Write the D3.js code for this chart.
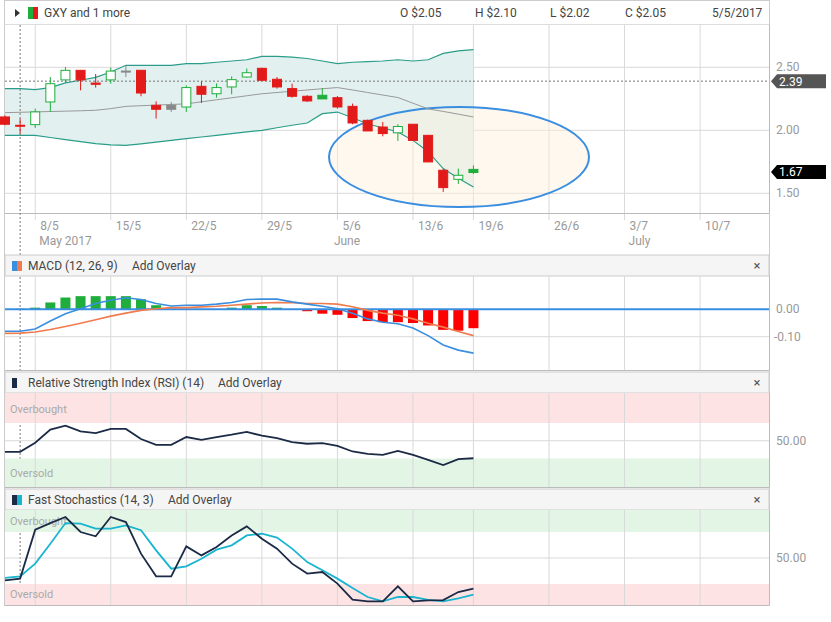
<!DOCTYPE html>
<html><head><meta charset="utf-8">
<script src="https://cdn.jsdelivr.net/npm/d3@7"></script>
<style>
body{margin:0;background:#fff;font-family:Roboto,"Open Sans",sans-serif;}
text{font-family:Roboto,sans-serif;}
</style></head>
<body><svg id="chart" width="831" height="622"></svg>
<script>
// candles, one per trading day (index 0 = 5/5/2017)
const opens  = [2.106,2.04,2.045,2.225,2.40,2.476,2.375,2.40,2.47,2.476,2.198,2.198,2.185,2.349,2.29,2.344,2.423,2.492,2.405,2.331,2.27,2.278,2.259,2.19,2.079,2.026,1.98,2.048,1.96,1.683,1.611,1.69];
const closes = [2.048,2.04,2.146,2.37,2.476,2.40,2.365,2.47,2.47,2.296,2.167,2.167,2.339,2.286,2.339,2.402,2.457,2.397,2.344,2.27,2.233,2.249,2.185,2.058,1.995,1.974,2.03,1.92,1.749,1.545,1.643,1.665];
const highs  = [2.119,2.093,2.172,2.423,2.503,2.476,2.447,2.497,2.516,2.476,2.230,2.225,2.357,2.389,2.372,2.428,2.490,2.497,2.423,2.370,2.278,2.336,2.272,2.212,2.085,2.066,2.048,2.048,1.963,1.693,1.696,1.722];
const lows   = [2.040,1.974,2.019,2.146,2.376,2.317,2.339,2.370,2.423,2.270,2.093,2.146,2.146,2.217,2.259,2.286,2.418,2.392,2.331,2.259,2.225,2.249,2.172,2.048,1.995,1.952,1.915,1.915,1.767,1.511,1.574,1.653];
const prevClose0 = 2.12;
const bbUpper = [2.331,2.331,2.323,2.339,2.376,2.397,2.42,2.463,2.516,2.516,2.516,2.516,2.529,2.529,2.54,2.55,2.56,2.587,2.587,2.58,2.57,2.55,2.529,2.54,2.545,2.55,2.56,2.55,2.56,2.61,2.63,2.64];
const bbMiddle = [2.14,2.143,2.146,2.149,2.152,2.155,2.159,2.172,2.19,2.195,2.2,2.205,2.21,2.226,2.242,2.258,2.274,2.29,2.3,2.31,2.32,2.33,2.339,2.32,2.3,2.28,2.26,2.215,2.17,2.15,2.128,2.106];
const bbLower = [1.96,1.96,1.96,1.943,1.926,1.91,1.895,1.885,1.88,1.893,1.906,1.92,1.934,1.947,1.96,1.973,1.987,2.0,2.02,2.04,2.058,2.132,2.145,2.1,2.05,2.02,1.987,1.92,1.83,1.696,1.62,1.55];
const macdHist = [0,0.002,0.006,0.025,0.043,0.048,0.048,0.048,0.048,0.037,0.015,0.002,0,0,0,0.006,0.015,0.012,0.006,0,-0.007,-0.016,-0.02,-0.032,-0.043,-0.047,-0.047,-0.05,-0.059,-0.075,-0.078,-0.069];
const macdLine = [-0.08,-0.08,-0.072,-0.043,-0.016,0.002,0.021,0.033,0.042,0.036,0.021,0.012,0.015,0.015,0.019,0.025,0.036,0.037,0.037,0.027,0.019,0.011,0.002,-0.014,-0.035,-0.047,-0.053,-0.068,-0.096,-0.13,-0.149,-0.16];
const macdSignal = [-0.088,-0.087,-0.083,-0.074,-0.063,-0.051,-0.038,-0.025,-0.014,-0.004,0.002,0.006,0.006,0.009,0.011,0.015,0.019,0.023,0.025,0.024,0.021,0.021,0.019,0.009,-0.004,-0.014,-0.022,-0.035,-0.051,-0.065,-0.081,-0.096];
const rsi = [37.5,37.5,47.7,62.5,67,60.6,58.7,63.3,63.3,51.9,45.4,45.4,54.2,51,54.2,56.8,59.9,55.7,53,48.5,46.6,47.3,44.3,37.9,35.2,34,38.6,34,28.4,22.7,29.2,30.3];
const stochK = [24.2,26.2,82.7,90.3,97.3,80,75,97.3,91.5,55,28.8,28.8,63.4,53,62.6,76,86.5,72.3,60.8,43.5,32,33.8,20.4,2,0,0,17.3,0,1,1.5,10.7,14.6];
const stochD = [27,28.8,43.5,66.5,90.3,89.6,83.8,83.8,87.7,82,58.8,37.7,40.4,49.2,59.6,64.6,76,78,73.5,60.8,45.3,35.8,26.2,15.3,5,0,5,5,1.7,0,3.5,7.7];
const tickIdx = [2,7,12,17,22,27,31,36,41,46];
const tickLabels = ["8/5","15/5","22/5","29/5","5/6","13/6","19/6","26/6","3/7","10/7"];
const monthIdx = [2,21.5,41];
const monthLabels = ["May 2017","June","July"];
const header = ["O $2.05","H $2.10","L $2.02","C $2.05","5/5/2017"];

const svg = d3.select("#chart");
const L = 5, R = 769;
const x = d3.scaleLinear().domain([0, 50.56]).range([L + 0, R]);
const xi = i => 5 + (x(i) - x(0));
const grid = "#d9d9d9", axisTxt = "#999";

// outer frame
svg.append("rect").attr("x",4.5).attr("y",0.5).attr("width",R-4).attr("height",605).attr("fill","none").attr("stroke","#ccc");

// top header
svg.append("path").attr("d","M15,9 L20,13 L15,17Z").attr("fill","#333");
svg.append("rect").attr("x",28).attr("y",7).attr("width",5).attr("height",12).attr("fill","#1fae3c");
svg.append("rect").attr("x",33).attr("y",7).attr("width",5).attr("height",12).attr("fill","#e21a1a");
svg.append("text").attr("x",44).attr("y",17).attr("font-size",12).attr("fill","#444").text("GXY and 1 more");
const hx = [400,475,550,625,712];
header.forEach((t,i)=>svg.append("text").attr("x",hx[i]).attr("y",17).attr("font-size",12).attr("fill","#444").text(t));
svg.append("line").attr("x1",4).attr("x2",R).attr("y1",24.5).attr("y2",24.5).attr("stroke","#ddd");

function vgrid(y0,y1){
  svg.append("g").selectAll("line").data(tickIdx).join("line")
    .attr("x1",d=>xi(d)).attr("x2",d=>xi(d)).attr("y1",y0).attr("y2",y1)
    .attr("stroke",grid);
}

// ---- price panel
const yP = d3.scaleLinear().domain([1.5,2.5]).range([193.3,67.3]);
const pTop = 25, pBot = 213;
vgrid(pTop,pBot+7);
svg.append("g").selectAll("line").data([1.5,2.0,2.5]).join("line")
  .attr("x1",L).attr("x2",R).attr("y1",d=>yP(d)).attr("y2",d=>yP(d)).attr("stroke",grid);
svg.append("g").selectAll("text").data([1.5,2.0,2.5]).join("text")
  .attr("x",776).attr("y",d=>yP(d)+4).attr("font-size",12).attr("fill",axisTxt).text(d=>d.toFixed(2));
svg.append("line").attr("x1",L).attr("x2",R).attr("y1",pBot+0.5).attr("y2",pBot+0.5).attr("stroke","#bbb");
svg.append("line").attr("x1",R+0.5).attr("x2",R+0.5).attr("y1",pTop).attr("y2",pBot).attr("stroke","#bbb");

const idx = d3.range(closes.length);
// bollinger band area
svg.append("path").datum(idx)
  .attr("d",d3.area().x(i=>xi(i)).y0(i=>yP(bbLower[i])).y1(i=>yP(bbUpper[i])))
  .attr("fill","#e2f1ef");
svg.append("line").attr("x1",xi(31)).attr("x2",xi(31)).attr("y1",yP(bbUpper[31])).attr("y2",yP(bbLower[31])).attr("stroke","#c9dedb");
// ellipse annotation
svg.append("ellipse").attr("cx",459).attr("cy",157).attr("rx",130).attr("ry",50)
  .attr("fill","rgba(255,240,220,0.45)").attr("stroke","#3a8ee0").attr("stroke-width",2);
const ln = arr => d3.line().x(i=>xi(i)).y(i=>yP(arr[i]));
svg.append("path").datum(idx).attr("d",ln(bbUpper)).attr("fill","none").attr("stroke","#2a9d8a").attr("stroke-width",1.2);
svg.append("path").datum(idx).attr("d",ln(bbLower)).attr("fill","none").attr("stroke","#2a9d8a").attr("stroke-width",1.2);
svg.append("path").datum(idx).attr("d",ln(bbMiddle)).attr("fill","none").attr("stroke","#999").attr("stroke-width",1);

// crosshair
svg.append("line").attr("x1",L).attr("x2",R).attr("y1",yP(2.39)).attr("y2",yP(2.39)).attr("stroke","#777").attr("stroke-dasharray","2,2");
svg.append("line").attr("x1",xi(1)).attr("x2",xi(1)).attr("y1",pTop).attr("y2",605).attr("stroke","#777").attr("stroke-dasharray","2,2");

// candles
const cw = 10;
idx.forEach(i=>{
  const pc = i===0 ? prevClose0 : closes[i-1];
  const col = closes[i]>pc+1e-4 ? "#1fae3c" : closes[i]<pc-1e-4 ? "#e21a1a" : "#888";
  const hollow = closes[i] > opens[i];
  const g = svg.append("g");
  const top = yP(Math.max(opens[i],closes[i])), bot = yP(Math.min(opens[i],closes[i]));
  g.append("line").attr("x1",xi(i)).attr("x2",xi(i)).attr("y1",yP(highs[i])).attr("y2",yP(lows[i])).attr("stroke",col);
  g.append("rect").attr("x",xi(i)-cw/2+0.5).attr("y",top).attr("width",cw-1).attr("height",Math.max(1,bot-top))
    .attr("fill",hollow?"#fff":col).attr("stroke",col);
});

// price tags
function tag(v,fill){
  const y = yP(v);
  svg.append("path").attr("d",`M771,${y} L777,${y-7} L826,${y-7} L826,${y+7} L777,${y+7}Z`).attr("fill",fill);
  svg.append("text").attr("x",779).attr("y",y+4.5).attr("font-size",12).attr("fill","#fff").text(v.toFixed(2));
}
tag(2.39,"#555"); tag(1.67,"#000");

// x axis labels
svg.append("g").selectAll("text").data(tickIdx).join("text")
  .attr("x",(d)=>xi(d)+5).attr("y",230).attr("font-size",12).attr("fill",axisTxt).text((d,i)=>tickLabels[i]);
svg.append("g").selectAll("text").data(monthIdx).join("text")
  .attr("x",d=>xi(d)+4).attr("y",245).attr("font-size",12).attr("fill",axisTxt).text((d,i)=>monthLabels[i]);

// ---- sub panels
function panelHeader(y, title, colors){
  svg.append("rect").attr("x",5).attr("y",y).attr("width",R-5).attr("height",21).attr("fill","#f5f5f5").attr("stroke","#ccc");
  colors.forEach((c,k)=>svg.append("rect").attr("x",12+k*5).attr("y",y+6).attr("width",5).attr("height",10).attr("fill",c));
  svg.append("text").attr("x",28).attr("y",y+15).attr("font-size",12).attr("fill","#444").text(title);
  svg.append("text").attr("x",757).attr("y",y+15).attr("font-size",13).attr("fill","#555").attr("text-anchor","middle").text("×");
}
function paneFrame(y0,y1){
  svg.append("line").attr("x1",R+0.5).attr("x2",R+0.5).attr("y1",y0).attr("y2",y1).attr("stroke","#bbb");
  svg.append("line").attr("x1",5).attr("x2",R).attr("y1",y1+0.5).attr("y2",y1+0.5).attr("stroke","#bbb");
}

// MACD
panelHeader(255,"MACD (12, 26, 9)",["#3a8ee0","#f07b4f"]);
svg.append("text").attr("x",132).attr("y",270).attr("font-size",12).attr("fill","#444").text("Add Overlay");
const yM = d3.scaleLinear().domain([-0.1,0]).range([336.7,309.3]);
vgrid(276,370);
svg.append("line").attr("x1",L).attr("x2",R).attr("y1",yM(-0.1)).attr("y2",yM(-0.1)).attr("stroke",grid);
svg.append("g").selectAll("rect").data(idx).join("rect")
  .attr("x",i=>xi(i)-5).attr("width",10)
  .attr("y",i=>yM(Math.max(0,macdHist[i]))).attr("height",i=>Math.abs(yM(macdHist[i])-yM(0)))
  .attr("fill",i=>macdHist[i]>=0?"#1fae3c":"#f00");
svg.append("line").attr("x1",L).attr("x2",R).attr("y1",yM(0)).attr("y2",yM(0)).attr("stroke","#3a8ee0").attr("stroke-width",2);
svg.append("path").datum(idx).attr("d",d3.line().x(i=>xi(i)).y(i=>yM(macdSignal[i]))).attr("fill","none").attr("stroke","#f07b4f").attr("stroke-width",1.6);
svg.append("path").datum(idx).attr("d",d3.line().x(i=>xi(i)).y(i=>yM(macdLine[i]))).attr("fill","none").attr("stroke","#3a8ee0").attr("stroke-width",1.6);
[0,-0.1].forEach(v=>svg.append("text").attr("x",v<0?774:776).attr("y",yM(v)+4).attr("font-size",12).attr("fill",axisTxt).text(v.toFixed(2)));
paneFrame(276,370);

// RSI
panelHeader(372,"Relative Strength Index (RSI) (14)",["#1b2a45"]);
svg.append("text").attr("x",218).attr("y",387).attr("font-size",12).attr("fill","#444").text("Add Overlay");
const yR = d3.scaleLinear().domain([30,70]).range([458.5,423]);
svg.append("rect").attr("x",5).attr("width",R-5).attr("y",393).attr("height",yR(70)-393).attr("fill","#fde3e3");
svg.append("rect").attr("x",5).attr("width",R-5).attr("y",yR(30)).attr("height",487-yR(30)).attr("fill","#e3f5e5");
vgrid(393,487);
svg.append("line").attr("x1",L).attr("x2",R).attr("y1",yR(50)).attr("y2",yR(50)).attr("stroke",grid);
svg.append("text").attr("x",10).attr("y",413).attr("font-size",11).attr("fill","#aaa").text("Overbought");
svg.append("text").attr("x",10).attr("y",477).attr("font-size",11).attr("fill","#aaa").text("Oversold");
svg.append("path").datum(idx).attr("d",d3.line().x(i=>xi(i)).y(i=>yR(rsi[i]))).attr("fill","none").attr("stroke","#1b2a45").attr("stroke-width",1.8);
svg.append("text").attr("x",776).attr("y",yR(50)+4).attr("font-size",12).attr("fill",axisTxt).text("50.00");
paneFrame(393,487);

// Stochastics
panelHeader(489,"Fast Stochastics (14, 3)",["#1b2a45","#19b4d0"]);
svg.append("text").attr("x",168).attr("y",504).attr("font-size",12).attr("fill","#444").text("Add Overlay");
const yS = d3.scaleLinear().domain([20,80]).range([584,532]);
svg.append("rect").attr("x",5).attr("width",R-5).attr("y",510).attr("height",yS(80)-510).attr("fill","#e3f5e5");
svg.append("rect").attr("x",5).attr("width",R-5).attr("y",yS(20)).attr("height",605-yS(20)).attr("fill","#fde3e3");
vgrid(510,605);
svg.append("line").attr("x1",L).attr("x2",R).attr("y1",yS(50)).attr("y2",yS(50)).attr("stroke",grid);
svg.append("text").attr("x",10).attr("y",525).attr("font-size",11).attr("fill","#aaa").text("Overbought");
svg.append("text").attr("x",10).attr("y",598).attr("font-size",11).attr("fill","#aaa").text("Oversold");
svg.append("path").datum(idx).attr("d",d3.line().x(i=>xi(i)).y(i=>yS(stochD[i]))).attr("fill","none").attr("stroke","#19b4d0").attr("stroke-width",1.8);
svg.append("path").datum(idx).attr("d",d3.line().x(i=>xi(i)).y(i=>yS(stochK[i]))).attr("fill","none").attr("stroke","#1b2a45").attr("stroke-width",1.8);
svg.append("text").attr("x",776).attr("y",yS(50)+4).attr("font-size",12).attr("fill",axisTxt).text("50.00");
paneFrame(510,605);
</script></body></html>
